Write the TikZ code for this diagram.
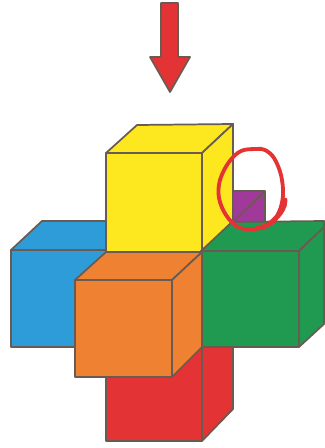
\documentclass[tikz,border=0pt]{standalone}
\usetikzlibrary{calc}
\definecolor{edgec}{HTML}{6A5B52}
\definecolor{cyel}{HTML}{FDE81F}
\definecolor{cblu}{HTML}{2E9CD8}
\definecolor{cora}{HTML}{EF8133}
\definecolor{cgrn}{HTML}{1F9A50}
\definecolor{cred}{HTML}{E43334}
\definecolor{cpur}{HTML}{A0399A}
\tikzset{
  face/.style={draw=edgec,line width=0.052cm,line join=round},
  ring/.style={draw=cred,line width=0.115cm,line cap=round,line join=round}
}
\begin{document}
\begin{tikzpicture}[x=0.03cm,y=-0.03cm]
\useasboundingbox (0,0) rectangle (324,448);
% arrow
\fill[face,fill=cred] (161,3) -- (178,3) -- (178,57) -- (190,57) -- (170,92) -- (150,57) -- (161,57) -- cycle;
% purple cube
\fill[face,fill=cpur] (233,191) rectangle (265,222);
\draw[face] (233,222) -- (265,191);
% red cube
\fill[face,fill=cred] (202,345) -- (233,345) -- (233,409) -- (202,441) -- cycle;
\fill[face,fill=cred] (106,345) rectangle (202,441);
% yellow cube
\fill[face,fill=cyel] (106,153) -- (137,125) -- (233,124) -- (202,153) -- cycle;
\fill[face,fill=cyel] (202,153) -- (233,124) -- (233,221) -- (202,252) -- cycle;
\fill[face,fill=cyel] (106,153) rectangle (202,252);
% blue cube
\fill[face,fill=cblu] (11,250) -- (42,221) -- (106,221) -- (106,250) -- cycle;
\fill[face,fill=cblu] (11,250) rectangle (106,347);
% green cube
\fill[face,fill=cgrn] (201,251) -- (232,222) -- (324,221) -- (324,227) -- (299,251) -- cycle;
\fill[face,fill=cgrn] (299,251) -- (324,227) -- (324,324) -- (299,347) -- cycle;
\fill[face,fill=cgrn] (201,251) rectangle (299,347);
% orange cube
\fill[face,fill=cora] (75,280) -- (106,252) -- (202,252) -- (172,280) -- cycle;
\fill[face,fill=cora] (172,280) -- (202,252) -- (202,347) -- (172,377) -- cycle;
\fill[face,fill=cora] (75,280) rectangle (172,377);
% hand-drawn ring
\draw[ring] plot[smooth cycle,tension=0.6] coordinates {
  (256,149) (241,151) (229,162) (220,180) (219,198) (226,215) (238,227)
  (254,229) (270,224) (279,212) (283,195) (281,175) (274,158) (265,150)};
\draw[ring,line width=0.15cm] (275,219) .. controls (281,213) and (285,207) .. (285,200);
\draw[ring,line width=0.15cm] (258,228) .. controls (265,227) and (271,224) .. (275,219);
\end{tikzpicture}
\end{document}
